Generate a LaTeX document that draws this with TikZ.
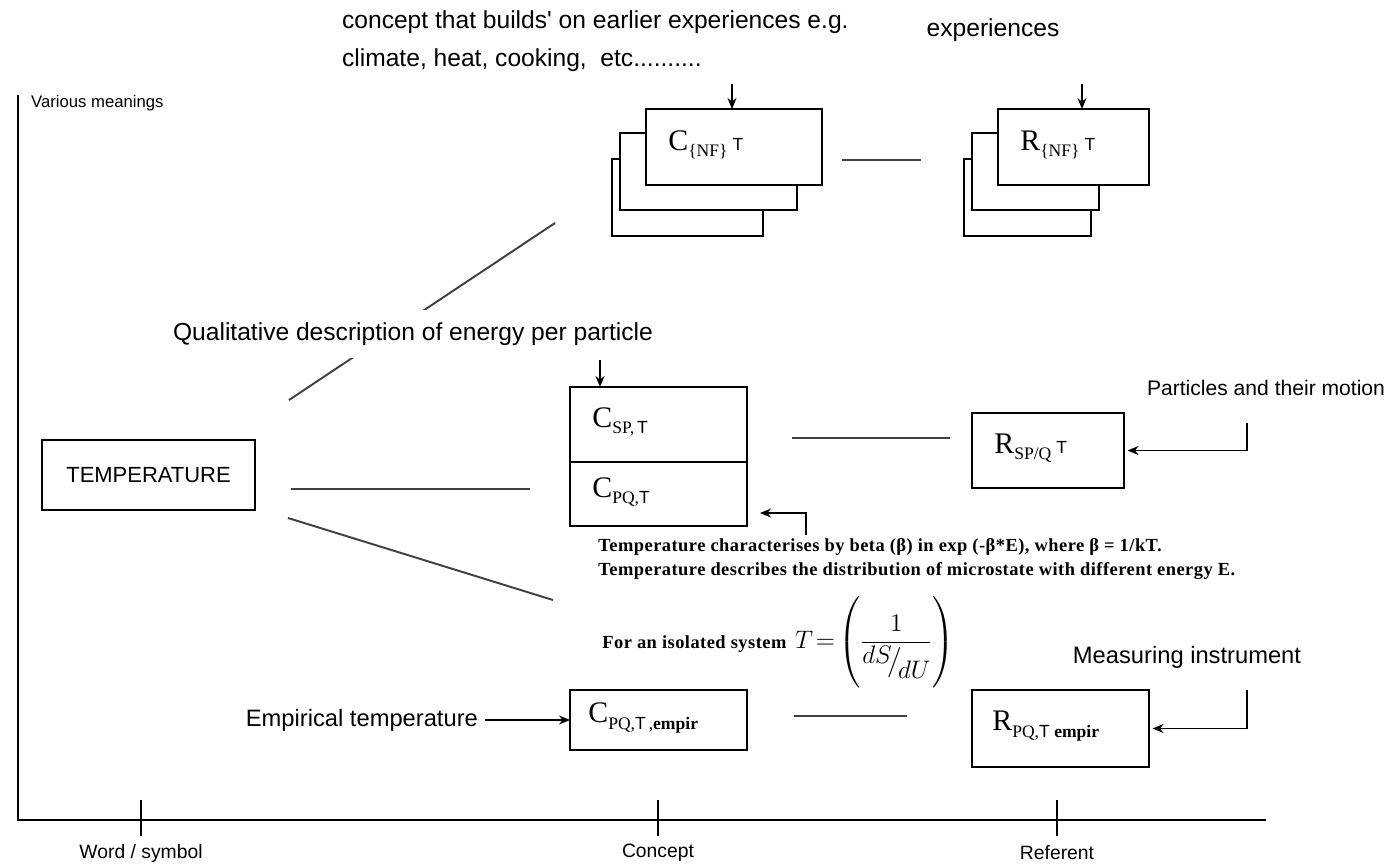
\documentclass[tikz,border=0pt]{standalone}
\usepackage{fontspec}
\setmainfont{Liberation Serif}
\setsansfont{Liberation Sans}
\usepackage{amsmath}
\usetikzlibrary{positioning,calc,arrows.meta}

\newcommand{\sym}[2]{#1\raisebox{-0.45ex}{\fontsize{10}{12}\selectfont #2}}
\newcommand{\smt}{{\sffamily\fontsize{10}{12}\selectfont T}}
\newcommand{\notefont}{\bfseries\fontsize{10.5}{12}\selectfont\addfontfeature{LetterSpace=2.5}}

\begin{document}
\begin{tikzpicture}[x=0.02cm,y=-0.02cm,
  box/.style={draw,line width=1pt,fill=white,inner sep=0pt,outer sep=0pt},
  symtxt/.style={font=\fontsize{17}{20}\selectfont,anchor=west,inner sep=0pt},
  lbl/.style={font=\sffamily\fontsize{14}{17}\selectfont,inner sep=1pt},
  axlbl/.style={font=\sffamily\fontsize{11}{13}\selectfont},
  note/.style={font=\notefont,anchor=west,inner sep=0pt},
  ln/.style={line width=1.1pt,draw=black!75},
  arr/.style={-{Stealth[length=2.2mm,width=1.8mm]},line width=0.9pt}]

\useasboundingbox (0,0) rectangle (1386,866);

% axes
\coordinate (top) at (18,95);
\coordinate (orig) at (18,820);
\coordinate (end) at (1266,820);
\draw[line width=1pt] (top) -- (orig) -- (end);
\foreach \x/\t/\n in {141/{Word / symbol}/word,658/Concept/concept,1057/Referent/referent}{
  \draw[line width=0.8pt] (\x,800) -- (\x,836);
  \node[axlbl] (\n) at (\x,853) {\t};
}
\node[axlbl,anchor=west,font=\sffamily\fontsize{9.5}{11}\selectfont] (various) at (25,103) {Various meanings};

% concept stack (everyday meanings)
\node[box,minimum width=3.02cm,minimum height=1.54cm] (cnf3) at (687.5,197.5) {};
\node[box,minimum width=3.54cm,minimum height=1.54cm] (cnf2) at (708.5,171.5) {};
\node[box,minimum width=3.52cm,minimum height=1.52cm] (cnf) at (734,147) {};
\node[symtxt] (cnflbl) at (668,145) {\sym{C}{\{NF\}}\,\smt};

% referent stack
\node[box,minimum width=2.54cm,minimum height=1.54cm] (rnf3) at (1027.5,197.5) {};
\node[box,minimum width=2.54cm,minimum height=1.54cm] (rnf2) at (1035.5,171.5) {};
\node[box,minimum width=3.02cm,minimum height=1.52cm] (rnf) at (1073.5,147) {};
\node[symtxt] (rnflbl) at (1020,145) {\sym{R}{\{NF\}}\,\smt};

\node[lbl,anchor=north west,align=left,font=\sffamily\fontsize{14}{21.5}\selectfont]
  (builds) at (340,9) {concept that builds\textquotesingle{} on earlier experiences e.g.\\climate, heat, cooking,\ \ etc..........};
\node[lbl] (exper) at (993,30) {experiences};
\coordinate (cnfin) at (732,84);
\coordinate (rnfin) at (1082,84);
\draw[arr] (cnfin) -- (cnfin |- cnf.north);
\draw[arr] (rnfin) -- (rnfin |- rnf.north);
\coordinate (nfa) at (842,160);
\coordinate (nfb) at (921,160);
\draw[ln] (nfa) -- (nfb);

% word
\node[box,font=\sffamily\fontsize{12.5}{15}\selectfont,minimum width=4.26cm,minimum height=1.4cm]
  (temp) at (148.5,475) {TEMPERATURE};
\coordinate (up1) at (289,400);
\coordinate (up2) at (555,223);
\coordinate (mid1) at (291,489);
\coordinate (mid2) at (530,489);
\coordinate (lo1) at (288,518);
\coordinate (lo2) at (553,600);
\draw[ln] (up1) -- (up2);
\draw[ln] (mid1) -- (mid2);
\draw[ln] (lo1) -- (lo2);
\node[lbl,fill=white,inner ysep=0.25cm] (qual) at (413,334) {Qualitative description of energy per particle};

% scientific concept
\node[box,minimum width=3.54cm,minimum height=1.5cm] (csp) at (658.5,424.5) {};
\node[box,minimum width=3.54cm,minimum height=1.28cm,anchor=north] (cpq) at (csp.south) {};
\node[symtxt] (csplbl) at (592,422) {\sym{C}{SP,\,\smt}};
\node[symtxt] (cpqlbl) at (592,492) {\sym{C}{PQ,\smt}};
\coordinate (qualin) at (600,360);
\draw[arr] (qualin) -- (qualin |- csp.north);
\coordinate (spa) at (792,438);
\coordinate (spb) at (950,438);
\draw[ln] (spa) -- (spb);
\node[box,minimum width=3.04cm,minimum height=1.5cm] (rsp) at (1048,450.5) {};
\node[symtxt] (rsplbl) at (994,448) {\sym{R}{SP/Q}\,\smt};
\node[lbl,font=\sffamily\fontsize{12}{15}\selectfont] (part) at (1266,388) {Particles and their motion};
\coordinate (partin) at (1247,423);
\draw[arr] (partin) |- ([xshift=2pt]rsp.east);

% statistical notes
\coordinate (notein) at (806,535);
\coordinate (cpqtip) at (760,513);
\draw[arr] (notein) |- (cpqtip);
\node[note] (note1) at (598,547) {Temperature characterises by beta (β) in exp (-β*E), where β = 1/kT.};
\node[note] (note2) at (598,571) {Temperature describes the distribution of microstate with different energy E.};
\node[anchor=west,inner sep=0pt] (isol) at (602,643) {{\notefont For an isolated system}\enspace
  {\fontsize{15}{18}\selectfont$T\!=\!\left(\rule[-0.82cm]{0pt}{1.64cm}\dfrac{1}{\raisebox{.5ex}{$dS$}\!\big/\!\raisebox{-.8ex}{$dU$}}\right)$}};

% empirical
\node[box,minimum width=3.54cm,minimum height=1.2cm] (cemp) at (658.5,720) {};
\node[symtxt] (cemplbl) at (588,718) {\sym{C}{PQ,\smt\,,\textbf{empir}}};
\node[lbl,anchor=east,font=\sffamily\fontsize{13.5}{16}\selectfont] (emp) at (480,720) {Empirical temperature};
\draw[arr,shorten <=3pt] (emp) -- (cemp);
\coordinate (empa) at (794,716);
\coordinate (empb) at (907,716);
\draw[ln] (empa) -- (empb);
\node[box,minimum width=3.54cm,minimum height=1.54cm] (remp) at (1060.5,728.5) {};
\node[symtxt] (remplbl) at (992,726) {\sym{R}{PQ,\smt\ \textbf{empir}}};
\node[lbl,font=\sffamily\fontsize{13.5}{16}\selectfont] (meas) at (1187,657) {Measuring instrument};
\coordinate (measin) at (1247,690);
\draw[arr] (measin) |- ([xshift=2pt]remp.east);
\end{tikzpicture}
\end{document}
